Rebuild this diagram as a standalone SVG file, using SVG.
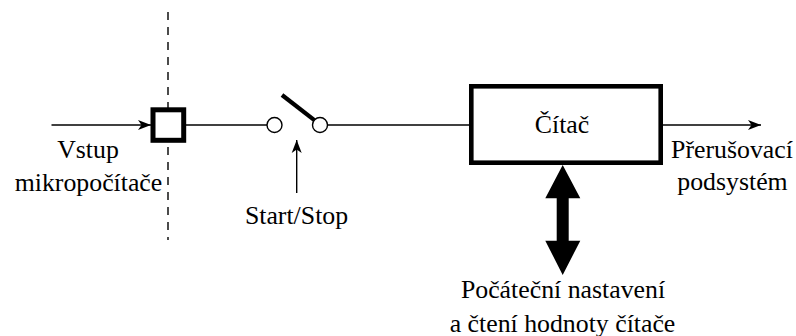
<svg xmlns="http://www.w3.org/2000/svg" width="796" height="336" viewBox="0 0 796 336">
<style>
text{font-family:"Liberation Serif","Times New Roman",serif;font-size:25.8px;fill:#000;text-anchor:middle}
.l{fill:none;stroke:#000;stroke-width:1.4}
.b{fill:#fff;stroke:#000}
</style>
<defs>
<marker id="a" markerUnits="userSpaceOnUse" markerWidth="14" markerHeight="12" refX="13" refY="6" orient="auto"><path d="M0 1 L13 6 L0 11 L3.500 6Z" fill="#000"/></marker>
</defs>
<rect width="796" height="336" fill="#fff"/>
<g id="connectors">
<path class="l" stroke-dasharray="8 7" d="M168 12V240"/>
<path class="l" marker-end="url(#a)" d="M51.500 125H151"/>
<path class="l" d="M186 125H267"/>
<path class="l" d="M327.500 125H469"/>
<path class="l" marker-end="url(#a)" d="M663 125H761"/>
<path class="l" marker-end="url(#a)" d="M296.700 193V140"/>
<path d="M562.700 165L580.300 198.300H568.700V240.700H580.300L562.700 275L545.300 240.700H556.700V198.300H545.300Z" fill="#000"/>
</g>
<g id="port"><rect class="b" x="153" y="109.800" width="30.700" height="30.500" stroke-width="5"/></g>
<g id="switch">
<path d="M282 95L315 120.700" stroke="#000" stroke-width="4.200" fill="none"/>
<circle class="b" cx="274.500" cy="125" r="7.500" stroke-width="1.400"/>
<circle class="b" cx="320" cy="125" r="7.500" stroke-width="1.400"/>
</g>
<g id="citac"><rect class="b" x="471.300" y="86.300" width="189.400" height="76.400" stroke-width="4.600"/><text x="562" y="133.300">Čítač</text></g>
<g id="labels">
<text x="88" y="157.500">Vstup</text>
<text x="88.500" y="190.500">mikropočítače</text>
<text x="296.500" y="223.500">Start/Stop</text>
<text x="732" y="157.500">Přerušovací</text>
<text x="732.500" y="190">podsystém</text>
<text x="563" y="298">Počáteční nastavení</text>
<text x="562.500" y="331.500">a čtení hodnoty čítače</text>
</g>
</svg>
